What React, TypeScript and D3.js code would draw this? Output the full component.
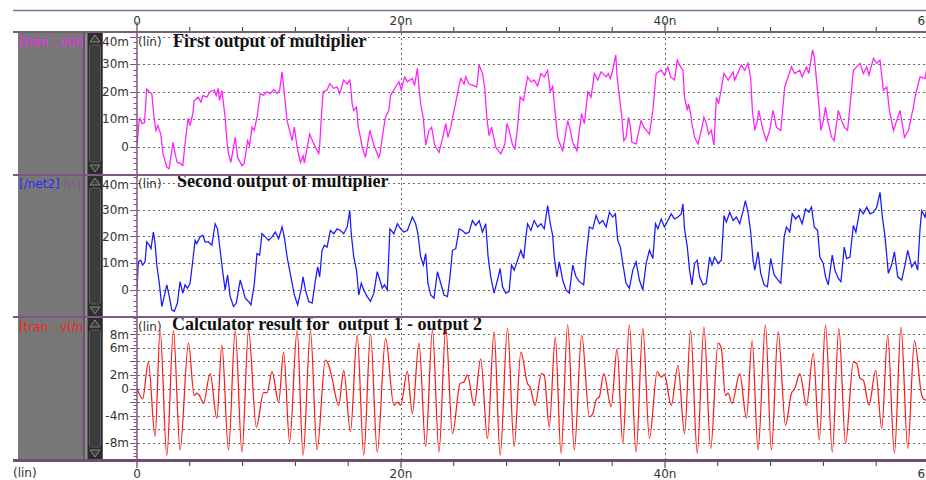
import React, { useRef, useEffect } from 'react';
import * as d3 from 'd3';

type Pt = [number, number];

// time axis (ns)
const timeTicks = [0, 4, 8, 12, 16, 20, 24, 28, 32, 36, 40, 44, 48, 52, 56, 60];
const timeLabelAt = [0, 20, 40, 60];
const timeLabels = ['0', '20n', '40n', '60n'];

// y axes (mV)
const outGrid = [0, 10, 20, 30, 40];
const outLabels = ['0', '10m', '20m', '30m', '40m'];
const diffGrid = [-8, -6, -4, -2, 0, 2, 4, 6, 8];
const diffTickVals = [8, 6, 2, 0, -4, -8];
const diffLabels = ['8m', '6m', '2m', '0', '-4m', '-8m'];

// first output of multiplier [t ns, v mV]
const out1: Pt[] = [
  [0, 0], [0.15, 9], [0.23, 10.3], [0.38, 8.4], [0.57, 8.8], [0.74, 21], [0.91, 20], [1.12, 19.3], [1.29, 10.7], [1.44, 5.9],
  [1.59, 7.7], [1.8, 4.5], [1.97, -2.6], [2.26, -7.5], [2.43, -8], [2.73, 1.6], [2.89, -2.6], [3.04, -5.7], [3.26, -6], [3.47, -6.9],
  [3.64, 1.1], [3.87, 10.3], [4.02, 7.7], [4.23, 12], [4.33, 16.8], [4.63, 18], [4.84, 16.2], [4.99, 18.6], [5.29, 18], [5.54, 20],
  [5.85, 20.6], [6.0, 18.6], [6.15, 21.2], [6.25, 16.8], [6.43, 20.4], [6.68, 10.7], [6.81, 2.2], [6.93, -2.5], [7.11, -5.7], [7.44, 3.4],
  [7.62, -3.9], [7.95, -6.9], [8.12, -6.2], [8.38, 2.2], [8.53, 0.4], [8.71, 7.1], [8.88, 5.9], [9.09, 10.7], [9.34, 19.3], [9.59, 18.7],
  [9.85, 20], [10.1, 19.3], [10.35, 20.8], [10.61, 19.3], [10.8, 20.4], [10.99, 27.2], [11.16, 19.3], [11.37, 9.5], [11.56, 5.9], [11.75, 2.2],
  [11.92, 7.1], [12.13, -0.2], [12.38, -5.7], [12.58, -3.3], [12.68, -6], [13.08, 4.6], [13.34, 1.6], [13.52, -0.2], [13.77, -2.5], [13.84, 0.4],
  [13.95, 9.5], [14.1, 20], [14.4, 20.6], [14.6, 22.9], [14.91, 21.2], [15.16, 21.7], [15.36, 19.3], [15.66, 24.2], [15.92, 22.8], [16.12, 24.2],
  [16.17, 22.8], [16.3, 15.6], [16.42, 13.2], [16.63, 14.4], [16.76, 7.1], [16.93, 3.4], [17.06, -0.2], [17.31, -3.9], [17.64, 5.9], [17.94, 0.6],
  [18.32, -3.9], [18.4, -2.7], [18.7, 7.1], [18.83, 10.7], [19.08, 13.2], [19.21, 18.7], [19.84, 23.6], [20.02, 20.6], [20.27, 25.4], [20.48, 23.6],
  [20.86, 24.8], [21.03, 22.2], [21.24, 28.5], [21.36, 21.7], [21.49, 15.6], [21.69, 10.3], [21.87, 0.6], [22.12, 5.9], [22.32, 7.1], [22.55, 0.6],
  [22.88, -2.1], [23.14, 2.8], [23.39, 8.4], [23.56, 3.4], [23.77, 7.1], [24.4, 22.2], [24.53, 24.8], [24.78, 22.8], [24.9, 25.4], [25.16, 22.8],
  [25.54, 22.2], [25.74, 21.7], [25.92, 29.7], [26.17, 26.6], [26.35, 21.2], [26.5, 10.7], [26.67, 4], [26.86, 7.1], [27.18, -0.2], [27.56, -2.6],
  [27.87, 1], [28.02, 8.4], [28.19, 6], [28.45, 0.6], [28.63, -0.8], [28.83, 7.1], [29.03, 18], [29.29, 16.8], [29.44, 21.5], [29.59, 25.4],
  [29.84, 23.6], [30.09, 24.2], [30.35, 22], [30.6, 26.6], [30.85, 25.4], [31.11, 27.8], [31.31, 20], [31.49, 21.9], [31.66, 13.2], [31.87, 3.4],
  [32.07, 0.6], [32.25, -1.5], [32.63, 9.5], [32.83, 6], [33.01, 1.6], [33.33, -1.5], [33.51, 5.9], [33.69, 12], [33.89, 8.4], [34.15, 19.9],
  [34.4, 18], [34.65, 26.6], [34.91, 24.2], [35.16, 27.2], [35.54, 25.4], [35.71, 26.6], [35.86, 24.8], [36.04, 27.8], [36.27, 33.4], [36.37, 25.4],
  [36.55, 18], [36.73, 10.7], [36.88, 2.2], [37.05, 3.4], [37.23, 10.7], [37.38, 7.1], [37.49, 1.6], [37.81, 1], [38.19, 9.5], [38.4, 7.1],
  [38.82, 4.6], [39.08, 13.2], [39.33, 26.6], [39.71, 27.8], [39.96, 26], [40.22, 29], [40.42, 25.4], [40.72, 24.2], [40.93, 31.5], [41.18, 29],
  [41.36, 27.8], [41.48, 18], [41.69, 13.2], [41.78, 15.6], [41.94, 12], [42.04, 8.4], [42.24, 3.4], [42.5, 1], [42.75, 5.9], [42.95, 10.7],
  [43.13, 8.4], [43.3, 4.6], [43.51, 5.9], [43.71, 0.6], [43.89, 18], [44.06, 15.6], [44.47, 26.6], [44.78, 24.2], [45.16, 27.2], [45.28, 24.2],
  [45.79, 29.7], [46.04, 27.8], [46.29, 30.3], [46.49, 24.8], [46.62, 13.2], [46.8, 5.9], [47.0, 9.5], [47.1, 13.2], [47.43, 5.9], [47.68, 2.2],
  [47.93, 5.9], [48.19, 13.2], [48.44, 7.1], [48.77, 5.9], [49.07, 21.7], [49.58, 29], [49.83, 26.6], [50.21, 27.8], [50.39, 25.4], [50.72, 29],
  [50.9, 26.6], [51.18, 35.2], [51.31, 32.7], [51.48, 24.2], [51.69, 13.2], [51.81, 5.9], [51.99, 9.5], [52.16, 14.4], [52.32, 9.5], [52.62, 3.4],
  [52.82, 2.2], [53.13, 13.2], [53.38, 9.5], [53.58, 7.1], [53.83, 5.9], [54.08, 18], [54.27, 27.8], [54.77, 30.3], [55.03, 26.6], [55.28, 29],
  [55.45, 26], [55.79, 32.1], [56.04, 30.3], [56.29, 31.5], [56.54, 20.5], [56.8, 21.7], [57.0, 13.2], [57.31, 5.9], [57.81, 13.2], [58.14, 3.4],
  [58.44, 5.9], [58.82, 14.4], [58.94, 18], [59.32, 25.4], [59.7, 24.8], [59.91, 30.3],
];

// second output of multiplier (/net2)
const out2: Pt[] = [
  [0, 0], [0.1, 10.5], [0.28, 11.1], [0.43, 9.3], [0.61, 10.5], [0.74, 17.9], [0.93, 16.7], [1.06, 15.4], [1.24, 21.6], [1.37, 17.3],
  [1.5, 9.3], [1.69, 2.5], [1.88, -6.2], [2.0, -3.7], [2.26, 1.9], [2.45, -2.5], [2.63, -7.4], [2.83, -8], [3.06, -4.9], [3.26, 3.1],
  [3.47, -1.2], [3.64, 1.9], [3.82, 0.6], [4.02, 2.5], [4.23, 11.1], [4.4, 18.5], [4.53, 17.3], [4.78, 19.8], [4.99, 20.4], [5.16, 17.9],
  [5.41, 17.9], [5.67, 16.7], [5.92, 24.7], [6.1, 22.8], [6.3, 14.8], [6.51, 6.2], [6.68, 0], [6.86, 5.6], [7.06, -2.5], [7.31, -6.2],
  [7.52, -4.9], [7.82, 3.7], [8.03, 0], [8.2, -3.1], [8.45, -4.3], [8.63, -5.6], [8.88, 1.9], [9.09, 13.6], [9.29, 13], [9.47, 21],
  [9.72, 19.8], [9.97, 18.5], [10.23, 19.8], [10.48, 21.6], [10.73, 19.1], [10.99, 23.5], [11.16, 19.8], [11.37, 12.3], [11.56, 7.4], [11.75, 2.5],
  [11.92, -1.9], [12.17, -5.6], [12.43, 0], [12.58, 4.9], [12.76, 0], [13.01, -4.3], [13.27, -4.9], [13.52, 3.7], [13.69, 8.6], [13.84, 4.9],
  [14.02, 14.8], [14.2, 16.7], [14.4, 16], [14.65, 22.2], [14.91, 21], [15.16, 22.8], [15.41, 22.2], [15.66, 21], [15.92, 23.5], [16.12, 29.6],
  [16.23, 21], [16.42, 12.3], [16.63, 7.4], [16.8, -1.9], [16.99, 2.5], [17.18, 0], [17.44, -2.5], [17.69, -4.3], [17.94, -1.2], [18.2, 6.8],
  [18.4, 3.7], [18.58, 0.6], [18.75, 1.9], [18.96, 0], [19.16, 22.8], [19.46, 21], [19.72, 24.7], [19.97, 22.8], [20.22, 21.6], [20.48, 22.2],
  [20.86, 27.2], [21.11, 24.7], [21.28, 21], [21.49, 12.3], [21.69, 9.3], [21.87, 13.6], [22.04, 2.5], [22.25, -1.9], [22.5, -3.1], [22.76, 6.8],
  [23.01, 2.5], [23.26, -1.9], [23.52, -2.5], [23.71, 4.9], [23.9, 14.8], [24.15, 15.4], [24.4, 22.8], [24.65, 22.2], [24.9, 21], [25.16, 21.6],
  [25.41, 25.9], [25.66, 24.1], [25.92, 25.9], [26.17, 21.6], [26.42, 24.7], [26.6, 12.3], [26.8, 4.9], [27.05, -1.2], [27.31, 3.7], [27.51, 8],
  [27.69, 1.2], [27.94, -1.2], [28.19, -0.6], [28.37, 9.3], [28.57, 7.4], [28.83, 11.1], [29.08, 14.8], [29.29, 11.7], [29.46, 19.8], [29.59, 24.7],
  [29.84, 22.2], [30.09, 25.9], [30.35, 23.5], [30.6, 24.7], [30.85, 22.8], [31.11, 31.5], [31.31, 24.7], [31.49, 20.4], [31.61, 12.3], [31.81, 4.9],
  [31.99, 10.5], [32.25, 3.7], [32.5, 0], [32.75, -1.2], [33.01, 9.3], [33.26, 4.9], [33.51, 3.1], [33.84, 1.9], [34.02, 12.3], [34.27, 23.5],
  [34.53, 22.8], [34.78, 27.8], [35.03, 24.7], [35.28, 25.9], [35.54, 23.5], [35.79, 29], [36.04, 27.2], [36.24, 28.4], [36.42, 18.5], [36.62, 16],
  [36.8, 9.9], [37.05, 2.5], [37.3, 0.6], [37.56, 7.4], [37.81, 10.5], [38.06, 3.7], [38.32, 0], [38.57, 9.9], [38.82, 14.8], [39.08, 11.7],
  [39.28, 24.7], [39.46, 22.8], [39.71, 26.5], [39.96, 23.5], [40.22, 25.9], [40.47, 28.4], [40.72, 26.5], [40.98, 27.2], [41.23, 28.4], [41.36, 32.1],
  [41.48, 22.8], [41.69, 16], [41.86, 7.4], [42.04, 1.9], [42.24, 9.9], [42.44, 11.1], [42.62, 4.9], [42.88, 1.9], [43.13, 2.5], [43.38, 12.3],
  [43.56, 9.3], [43.76, 12.3], [44.02, 9.9], [44.27, 11.1], [44.47, 27.8], [44.65, 25.3], [44.9, 29], [45.16, 25.9], [45.41, 27.2], [45.66, 24.7],
  [45.92, 29.6], [46.09, 33.3], [46.29, 29], [46.49, 21.6], [46.67, 11.1], [46.8, 7.4], [47.05, 14.2], [47.25, 6.2], [47.51, 1.9], [47.76, 1.2],
  [48.01, 11.7], [48.27, 5.6], [48.57, 3.7], [48.77, 2.5], [49.03, 19.8], [49.2, 23.5], [49.45, 21.6], [49.64, 28.4], [49.89, 26.5], [50.14, 27.8],
  [50.39, 24.7], [50.65, 30.2], [50.9, 29], [51.1, 30.9], [51.31, 23.5], [51.56, 22.2], [51.73, 12.3], [51.99, 9.9], [52.16, 4.9], [52.37, 1.9],
  [52.67, 13], [52.87, 7.4], [53.13, 4.3], [53.33, 3.1], [53.58, 16], [53.76, 11.7], [54.01, 12.3], [54.27, 24.1], [54.46, 21.6], [54.77, 30.2],
  [55.03, 28.4], [55.28, 30.9], [55.53, 28.4], [55.79, 29], [56.04, 30.9], [56.29, 36.4], [56.47, 27.2], [56.67, 19.8], [56.92, 6.2], [57.17, 9.3],
  [57.38, 14.2], [57.63, 4.9], [57.93, 3.7], [58.18, 9.3], [58.39, 14.8], [58.69, 8.6], [58.94, 10.5], [59.14, 7.4], [59.32, 22.8], [59.45, 29.6],
  [59.7, 27.2], [59.91, 32.1],
];

// calculator result: output 1 - output 2
const diff: Pt[] = [
  [0, 0], [0.43, -1.5], [0.86, 3.9], [1.37, -7.1], [1.75, 8.6], [2.26, -9.9], [2.76, 8.6], [3.26, -9.1], [3.9, 6.7], [4.33, -1.0],
  [4.53, -0.7], [4.78, -1.2], [5.03, -2.2], [5.54, 2.2], [6.05, -4.4], [6.43, 6.4], [6.93, -9.1], [7.44, 8.6], [7.95, -9.4], [8.45, 8.6],
  [9.04, -5.7], [9.59, -0.6], [9.85, -0.6], [10.23, 2.5], [10.73, -2.0], [11.11, 5.4], [11.56, -7.9], [12.13, 8.6], [12.58, -9.9], [13.14, 8.6],
  [13.64, -9.1], [14.27, 4.2], [14.53, 3.4], [14.78, 1.5], [15.28, -2.5], [15.66, 2.7], [16.17, -6.4], [16.68, 7.9], [17.18, -9.9], [17.69, 8.1],
  [18.2, -9.4], [18.83, 7.4], [19.46, -2.5], [19.72, -2.0], [19.97, -2.5], [20.48, 2.5], [20.86, -3.7], [21.36, 6.7], [21.87, -8.6], [22.38, 8.6],
  [22.88, -9.4], [23.39, 8.9], [23.9, -6.7], [24.47, 0.7], [24.78, 1.0], [25.03, 2.0], [25.54, -2.5], [26.04, 4.4], [26.55, -7.4], [27.05, 8.4],
  [27.51, -9.9], [28.07, 8.9], [28.57, -8.6], [29.08, 5.4], [29.59, 0.7], [29.79, 0.2], [30.14, -2.5], [30.65, 2.2], [30.85, 2.0], [31.23, -5.7],
  [31.69, 7.6], [32.12, -9.6], [32.63, 9.4], [33.13, -9.1], [33.69, 7.9], [34.27, -4.2], [34.53, -3.7], [34.78, -1.7], [35.03, -1.2], [35.36, 2.2],
  [35.92, -2.7], [36.37, 5.9], [36.8, -8.1], [37.3, 9.4], [37.81, -9.4], [38.32, 8.9], [38.82, -7.4], [39.41, 2.5], [39.71, 1.7], [39.96, 2.0],
  [40.47, -2.5], [40.98, 3.4], [41.48, -6.7], [41.94, 8.6], [42.44, -9.6], [42.95, 9.1], [43.46, -8.9], [44.02, 6.7], [44.27, 5.9], [44.57, -1.0],
  [44.78, -0.7], [45.08, -2.2], [45.66, 2.2], [46.17, -4.4], [46.6, 7.1], [47.05, -9.1], [47.61, 9.4], [48.06, -9.1], [48.57, 8.4], [49.13, -5.4],
  [49.58, -0.7], [49.83, 0], [50.21, 2.2], [50.72, -2.5], [51.23, 5.2], [51.69, -7.6], [52.16, 9.4], [52.67, -9.4], [53.17, 8.9], [53.68, -8.1],
  [54.27, 3.9], [54.52, 3.7], [54.77, 1.5], [55.03, 1.2], [55.45, -2.5], [55.96, 2.7], [56.42, -5.9], [56.87, 7.9], [57.38, -9.6], [57.88, 9.1],
  [58.39, -8.9], [58.9, 7.1], [59.45, -1.0], [59.7, -1.7], [59.91, -1.5],
];

const W = 926;
const H = 480;
const AXIS = '#7e5a82';

const App = () => {
  const svgRef = useRef<SVGSVGElement>(null);

  useEffect(() => {
    const svg = d3.select(svgRef.current);
    svg.selectAll('*').remove();

    const x = d3.scaleLinear().domain([0, 60]).range([137, 929]);
    const left = 137;
    const right = W;

    const panels = [
      {
        top: 32, bottom: 175, dom: [-10.3, 41.7], data: out1, color: '#ff1cff', curve: d3.curveLinear,
        grid: outGrid, tv: outGrid, tl: outLabels, minor: 2,
        title: 'First output of multiplier', tx: 173, tb: 47, lb: 46,
        names: [['[tran : v(/n', '#ff22ff']],
      },
      {
        top: 175, bottom: 317, dom: [-10.1, 42.9], data: out2, color: '#1818ff', curve: d3.curveLinear,
        grid: outGrid, tv: outGrid, tl: outLabels, minor: 2,
        title: 'Second output of multiplier', tx: 177, tb: 187, lb: 188,
        names: [['[/net2]', '#2a2aff'], [' hsp', '#7d5c86']],
      },
      {
        top: 317, bottom: 460, dom: [-10.58, 10.58], data: diff, color: '#ff1a1a', curve: d3.curveMonotoneX,
        grid: diffGrid, tv: diffTickVals, tl: diffLabels, minor: 0.5,
        title: 'Calculator result for  output 1 - output 2', tx: 172, tb: 330, lb: 331,
        names: [['[tran : v(/n', '#ff2020']],
      },
    ];

    svg.append('rect').attr('width', W).attr('height', H).attr('fill', '#fff');

    const defs = svg.append('defs');
    defs.append('clipPath').attr('id', 'nameClip')
      .append('rect').attr('x', 18).attr('y', 32).attr('width', 65).attr('height', 428);

    // left grey label column + scroll column
    svg.append('rect').attr('x', 18).attr('y', 32).attr('width', 66).attr('height', 428).attr('fill', '#777');
    svg.append('rect').attr('x', 85).attr('y', 32).attr('width', 18).attr('height', 428).attr('fill', '#8e8e8e');

    // vertical grid at labelled times
    [20, 40].forEach(t => {
      svg.append('line')
        .attr('x1', x(t) + 0.5).attr('x2', x(t) + 0.5).attr('y1', 33).attr('y2', 459)
        .attr('stroke', '#666').attr('stroke-dasharray', '2,3');
    });

    panels.forEach((p, i) => {
      const y = d3.scaleLinear().domain(p.dom).range([p.bottom, p.top]);
      const g = svg.append('g');

      // scrollbar
      g.append('rect').attr('x', 87.5).attr('y', p.top + 1).attr('width', 15).attr('height', p.bottom - p.top - 2)
        .attr('fill', '#2c2c2c');
      g.append('rect').attr('x', 89.5).attr('y', p.top + 13).attr('width', 11).attr('height', p.bottom - p.top - 26)
        .attr('rx', 2).attr('fill', '#3c3c3c').attr('stroke', '#5c5c5c');
      g.append('path')
        .attr('d', `M95,${p.top + 3}L90,${p.top + 10}L100,${p.top + 10}Z`)
        .attr('fill', '#3c3c3c').attr('stroke', '#8a8a8a');
      g.append('path')
        .attr('d', `M95,${p.bottom - 3}L90,${p.bottom - 10}L100,${p.bottom - 10}Z`)
        .attr('fill', '#3c3c3c').attr('stroke', '#8a8a8a');

      // horizontal grid
      g.selectAll('line.grid').data(p.grid).enter().append('line')
        .attr('x1', left + 1).attr('x2', right)
        .attr('y1', d => Math.round(y(d)) + 0.5).attr('y2', d => Math.round(y(d)) + 0.5)
        .attr('stroke', '#6a6a6a').attr('stroke-dasharray', '2,3');

      // minor y ticks
      const minors = d3.range(Math.ceil(p.dom[0] / p.minor) * p.minor, p.dom[1], p.minor);
      g.selectAll('line.minor').data(minors).enter().append('line')
        .attr('x1', 133.5).attr('x2', 137)
        .attr('y1', d => Math.round(y(d)) + 0.5).attr('y2', d => Math.round(y(d)) + 0.5)
        .attr('stroke', AXIS);
      g.selectAll('line.major').data(p.grid).enter().append('line')
        .attr('x1', 130).attr('x2', 137)
        .attr('y1', d => Math.round(y(d)) + 0.5).attr('y2', d => Math.round(y(d)) + 0.5)
        .attr('stroke', AXIS);

      // y labels
      g.selectAll('text.ylab').data(p.tv).enter().append('text')
        .attr('x', 129).attr('y', d => Math.max(y(d), p.top + 10) + 4.3)
        .attr('text-anchor', 'end')
        .style('font-family', 'DejaVu Sans, sans-serif').style('font-size', '12px').style('fill', '#333')
        .text((d, k) => p.tl[k]);

      // channel name in grey column
      const nm = g.append('text').attr('x', 19).attr('y', p.lb).attr('clip-path', 'url(#nameClip)')
        .style('font-family', 'DejaVu Sans, sans-serif').style('font-size', '12px').style('white-space', 'pre');
      p.names.forEach(n => nm.append('tspan').style('fill', n[1]).text(n[0]));

      // (lin) + title
      g.append('text').attr('x', 138).attr('y', p.lb)
        .style('font-family', 'DejaVu Sans, sans-serif').style('font-size', '12px').style('fill', '#333')
        .text('(lin)');
      g.append('text').attr('x', p.tx).attr('y', p.tb)
        .style('font-family', 'Liberation Serif, Times New Roman, serif').style('font-size', '18px')
        .style('font-weight', 'bold').style('fill', '#111').style('white-space', 'pre')
        .text(p.title);

      // waveform
      const clipId = `plot${i}`;
      defs.append('clipPath').attr('id', clipId)
        .append('rect').attr('x', left).attr('y', p.top).attr('width', right - left).attr('height', p.bottom - p.top);
      const line = d3.line<Pt>().x(d => x(d[0])).y(d => y(d[1])).curve(p.curve);
      g.append('path').datum(p.data)
        .attr('d', line)
        .attr('clip-path', `url(#${clipId})`)
        .attr('fill', 'none').attr('stroke', p.color).attr('stroke-width', 1.25);
    });

    // frame lines
    svg.append('line').attr('x1', 13).attr('x2', W).attr('y1', 10.5).attr('y2', 10.5).attr('stroke', '#8c6c96').attr('stroke-width', 1.3);
    [32, 175, 317].forEach(yy => {
      svg.append('line').attr('x1', 13).attr('x2', W).attr('y1', yy).attr('y2', yy).attr('stroke', AXIS).attr('stroke-width', 2);
    });
    svg.append('line').attr('x1', 13).attr('x2', W).attr('y1', 460.5).attr('y2', 460.5).attr('stroke', '#6e4e72').attr('stroke-width', 3);
    svg.append('line').attr('x1', 84).attr('x2', 84).attr('y1', 32).attr('y2', 460).attr('stroke', '#6e4e72').attr('stroke-width', 2);
    svg.append('line').attr('x1', left).attr('x2', left).attr('y1', 32).attr('y2', 460).attr('stroke', AXIS).attr('stroke-width', 1.5);

    // time ticks, top and bottom
    timeTicks.forEach(t => {
      const major = timeLabelAt.includes(t);
      svg.append('line').attr('x1', x(t)).attr('x2', x(t)).attr('y1', major ? 22 : 27).attr('y2', 31)
        .attr('stroke', '#333');
      svg.append('line').attr('x1', x(t)).attr('x2', x(t)).attr('y1', 462).attr('y2', major ? 468 : 466)
        .attr('stroke', '#333');
    });
    timeLabelAt.forEach((t, k) => {
      svg.append('text').attr('x', x(t)).attr('y', 24.5).attr('text-anchor', 'middle')
        .style('font-family', 'DejaVu Sans, sans-serif').style('font-size', '12px').style('fill', '#333')
        .text(timeLabels[k]);
      svg.append('text').attr('x', x(t)).attr('y', 478).attr('text-anchor', 'middle')
        .style('font-family', 'DejaVu Sans, sans-serif').style('font-size', '12px').style('fill', '#333')
        .text(timeLabels[k]);
    });
    svg.append('text').attr('x', 13).attr('y', 477)
      .style('font-family', 'DejaVu Sans, sans-serif').style('font-size', '12px').style('fill', '#333')
      .text('(lin)');
  }, []);

  return (
    <svg ref={svgRef} width={W} height={H} style={{ position: 'absolute', left: 0, top: 0, display: 'block' }} />
  );
};

export default App;
